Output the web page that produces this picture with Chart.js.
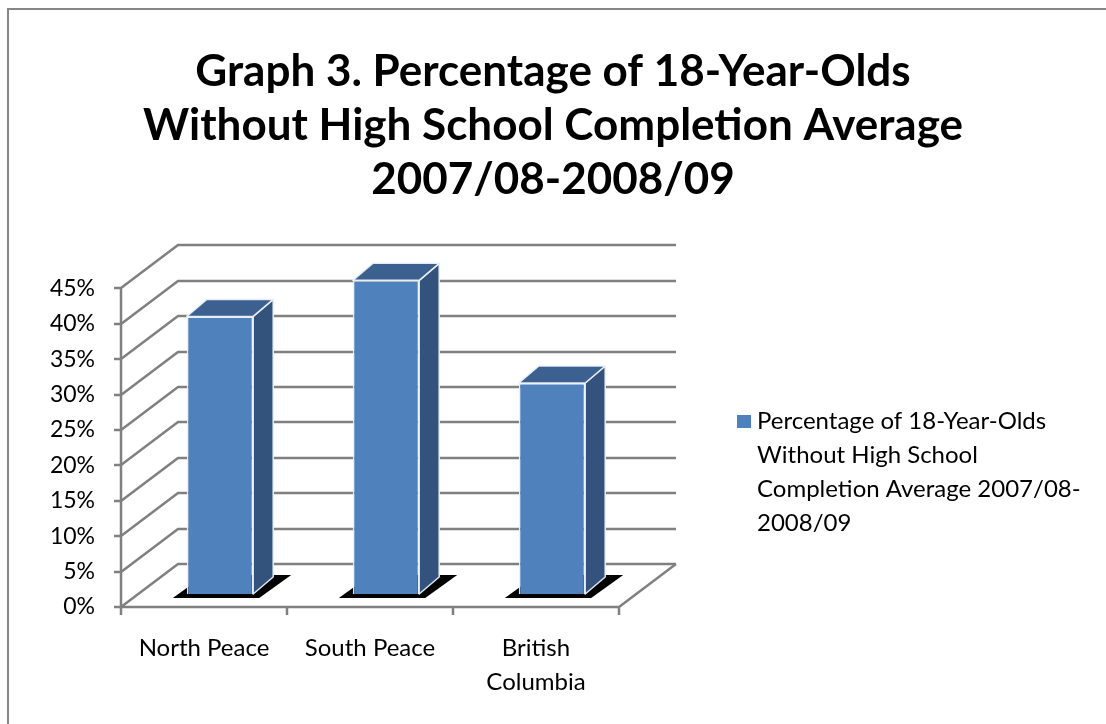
<!DOCTYPE html>
<html>
<head>
<meta charset="utf-8">
<title>Graph 3</title>
<script src="https://cdn.jsdelivr.net/npm/chart.js@4.4.0/dist/chart.umd.min.js"></script>
<style>
  html, body { margin: 0; padding: 0; background: #fff; overflow: hidden; }
  #chart { display: block; }
</style>
</head>
<body>
<canvas id="chart" width="1106" height="724"></canvas>
<script>
// Chart data
const categories = ['North Peace', 'South Peace', ['British', 'Columbia']];
const completionGap = [39.2, 44.3, 29.8];
const yTickValues = [0, 5, 10, 15, 20, 25, 30, 35, 40, 45];
const titleLines = [
    'Graph 3. Percentage of 18-Year-Olds',
    'Without High School Completion Average',
    '2007/08-2008/09'
];
const seriesLines = [
    'Percentage of 18-Year-Olds',
    'Without High School',
    'Completion Average 2007/08-',
    '2008/09'
];

const FONT = 'Lato, "Noto Sans", sans-serif';
const GRID = '#808080';
const BLUE = '#4F81BD';
const BLUE_TOP = '#3C6090';
const BLUE_SIDE = '#33537D';

// 3D offsets (pixels)
const WALL_DX = 57, WALL_DY = -43;      // back wall behind the front plane
const BAR_DX = 16, BAR_DY = -13;        // bars sit a little behind the front plane
const DEPTH_DX = 20, DEPTH_DY = -17;    // thickness of each bar

Chart.defaults.font.family = FONT;
Chart.defaults.color = '#000';

const frame3d = {
    id: 'frame3d',
    beforeDraw(chart) {
        const ctx = chart.ctx;
        ctx.save();
        ctx.strokeStyle = '#878787';
        ctx.lineWidth = 2;
        ctx.strokeRect(8, 9, 1300, 1000);
        ctx.restore();
    },
    beforeDatasetsDraw(chart) {
        const { ctx, chartArea: a, scales: { y } } = chart;
        ctx.save();
        ctx.strokeStyle = GRID;
        ctx.lineWidth = 2.5;
        ctx.lineJoin = 'round';

        // side wall diagonals + back wall gridlines
        y.ticks.forEach(t => {
            const py = Math.round(y.getPixelForValue(t.value));
            ctx.beginPath();
            ctx.moveTo(a.left - 7, py);
            ctx.lineTo(a.left, py);
            ctx.lineTo(a.left + WALL_DX, py + WALL_DY);
            ctx.lineTo(a.right + WALL_DX, py + WALL_DY);
            ctx.stroke();
        });

        // front value axis
        ctx.beginPath();
        ctx.moveTo(a.left, Math.round(y.getPixelForValue(45)));
        ctx.lineTo(a.left, a.bottom);
        // floor front and right edges
        ctx.lineTo(a.right, a.bottom);
        ctx.lineTo(a.right + WALL_DX, a.bottom + WALL_DY);
        ctx.stroke();

        // category tick marks
        const n = categories.length;
        ctx.beginPath();
        for (let i = 0; i <= n; i++) {
            const px = Math.round(a.left + i * (a.right - a.left) / n);
            ctx.moveTo(px, a.bottom);
            ctx.lineTo(px, a.bottom + 8);
        }
        ctx.stroke();
        ctx.restore();

        // shift bars back into the box, draw their floor shadows first
        ctx.save();
        ctx.translate(BAR_DX, BAR_DY);
        ctx.fillStyle = '#000';
        chart.getDatasetMeta(0).data.forEach(bar => {
            const p = bar.getProps(['x', 'y', 'base', 'width'], true);
            const l = p.x - p.width / 2, r = p.x + p.width / 2, b = p.base;
            ctx.beginPath();
            ctx.moveTo(l - 14, b + 4);
            ctx.lineTo(r + 6, b + 4);
            ctx.lineTo(r + 38, b - 19);
            ctx.lineTo(l + 18, b - 19);
            ctx.closePath();
            ctx.fill();
        });
    },
    afterDatasetsDraw(chart) {
        const ctx = chart.ctx;
        ctx.strokeStyle = 'rgba(235,241,250,0.95)';
        ctx.lineWidth = 1.5;
        ctx.lineJoin = 'round';
        chart.getDatasetMeta(0).data.forEach(bar => {
            const p = bar.getProps(['x', 'y', 'base', 'width'], true);
            const l = p.x - p.width / 2, r = p.x + p.width / 2, t = p.y, b = p.base;
            // right side face
            ctx.beginPath();
            ctx.moveTo(r, t);
            ctx.lineTo(r + DEPTH_DX, t + DEPTH_DY);
            ctx.lineTo(r + DEPTH_DX, b + DEPTH_DY);
            ctx.lineTo(r, b);
            ctx.closePath();
            ctx.fillStyle = BLUE_SIDE;
            ctx.fill();
            ctx.stroke();
            // top face
            ctx.beginPath();
            ctx.moveTo(l, t);
            ctx.lineTo(l + DEPTH_DX, t + DEPTH_DY);
            ctx.lineTo(r + DEPTH_DX, t + DEPTH_DY);
            ctx.lineTo(r, t);
            ctx.closePath();
            ctx.fillStyle = BLUE_TOP;
            ctx.fill();
            ctx.stroke();
        });
        ctx.restore();
    },
    afterDraw(chart) {
        // legend to the right of the plot
        const ctx = chart.ctx;
        ctx.save();
        ctx.fillStyle = BLUE;
        ctx.fillRect(737, 415, 14, 13);
        ctx.fillStyle = '#000';
        ctx.font = '24px ' + FONT;
        ctx.textBaseline = 'alphabetic';
        seriesLines.forEach((line, i) => ctx.fillText(line, 757, 429 + i * 34));
        ctx.restore();
    }
};

new Chart(document.getElementById('chart'), {
    type: 'bar',
    data: {
        labels: categories,
        datasets: [{
            label: seriesLines.join(' '),
            data: completionGap,
            backgroundColor: BLUE,
            borderColor: 'rgba(235,241,250,0.95)',
            borderWidth: 1.5,
            categoryPercentage: 1,
            barPercentage: 0.4,
            clip: false
        }]
    },
    options: {
        responsive: false,
        animation: false,
        events: [],
        layout: { padding: 0 },
        plugins: {
            legend: { display: false },
            tooltip: { enabled: false },
            title: {
                display: true,
                text: titleLines,
                color: '#000',
                font: { size: 44, weight: 'bold', lineHeight: 1.23 },
                padding: { top: 45, bottom: 81 }
            }
        },
        scales: {
            x: {
                grid: { display: false, drawTicks: false },
                border: { display: false },
                ticks: {
                    padding: 24,
                    font: { size: 24, lineHeight: 1.42 },
                    maxRotation: 0,
                    autoSkip: false
                },
                afterFit(s) { s.height = 117; }
            },
            y: {
                min: 0,
                max: 45,
                grid: { display: false, drawTicks: false },
                border: { display: false },
                afterBuildTicks(s) { s.ticks = yTickValues.map(v => ({ value: v })); },
                ticks: {
                    padding: 26,
                    font: { size: 23 },
                    callback: v => v + '%'
                },
                afterFit(s) { s.width = 121; }
            },
            legendSpace: {
                type: 'linear',
                position: 'right',
                grid: { display: false, drawTicks: false },
                border: { display: false },
                ticks: { display: false },
                afterFit(s) { s.width = 487; }
            }
        }
    },
    plugins: [frame3d]
});
</script>
</body>
</html>
